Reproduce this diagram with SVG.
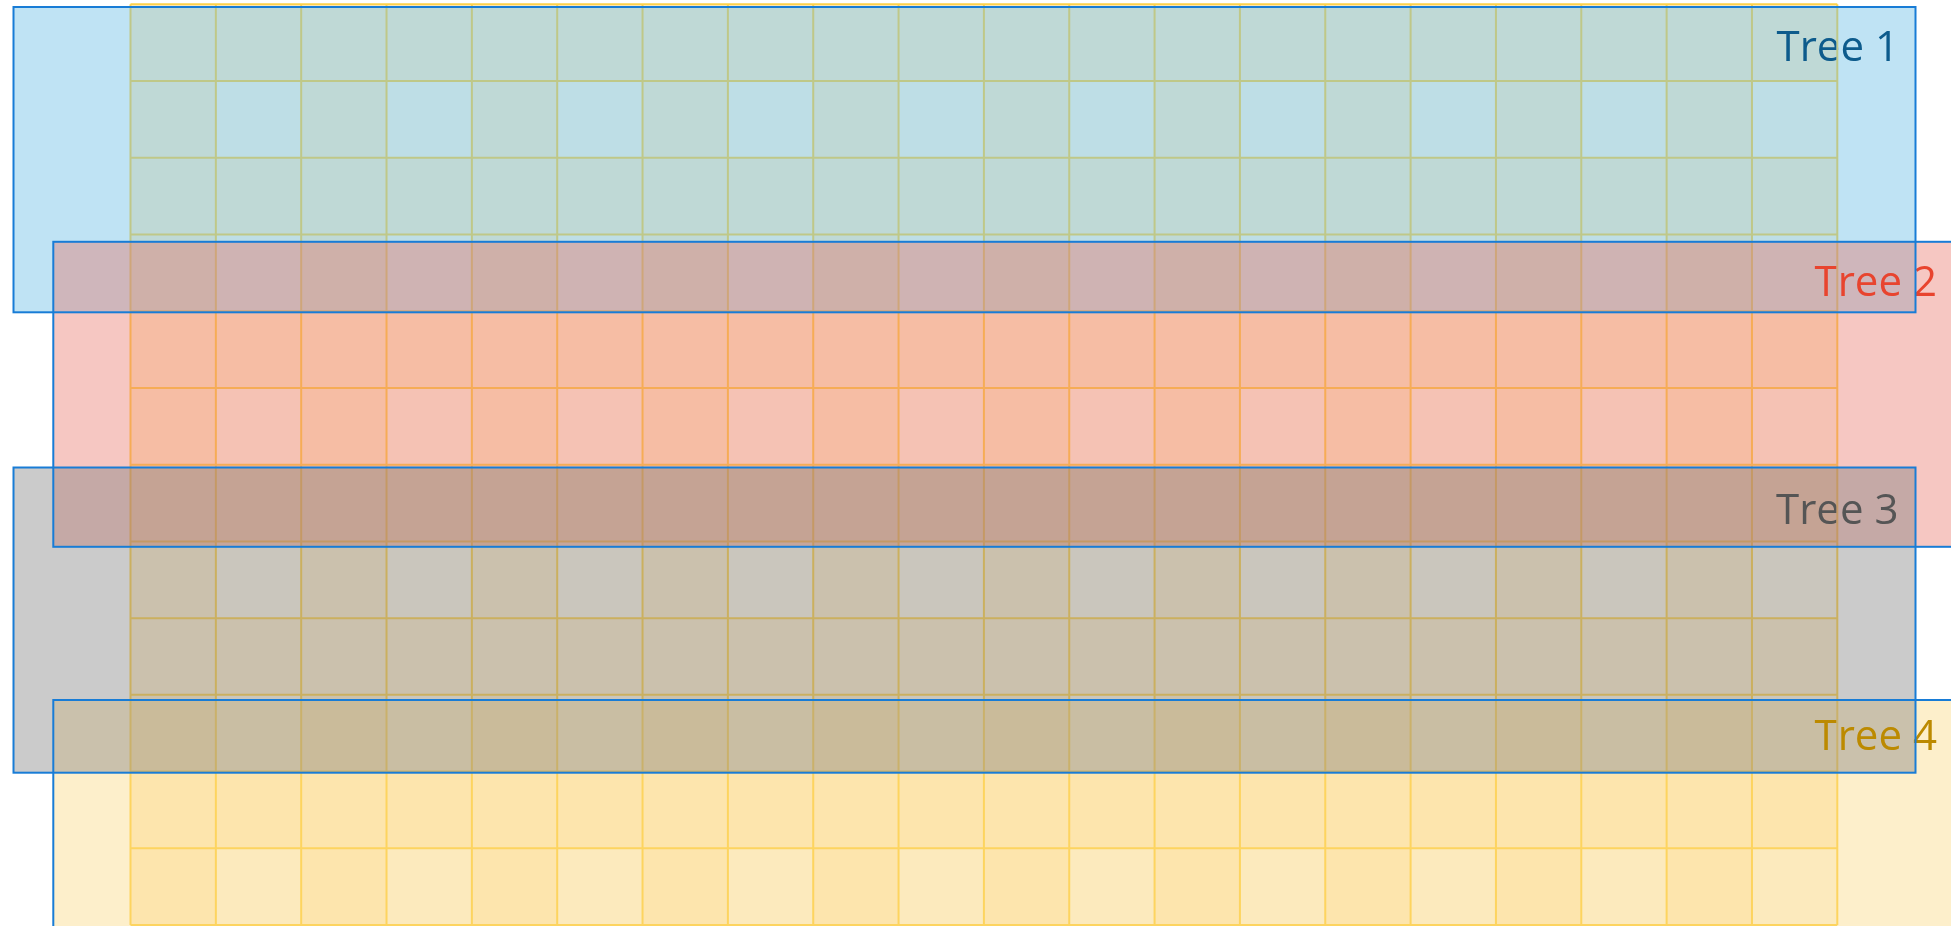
<svg xmlns="http://www.w3.org/2000/svg" width="1951" height="926" viewBox="0 0 1951 926">
  <style>
    .fill { stroke: none; fill-opacity: 0.4; }
    .border { fill: none; stroke: #187CD6; stroke-width: 2; }
    .grid-line { fill: none; stroke: #FFD24B; stroke-width: 2; }
    .label { font-family: "Open Sans", "Noto Sans", "Liberation Sans", sans-serif; font-size: 42px; }
  </style>
  <defs>
    <pattern id="lightCells" patternUnits="userSpaceOnUse" x="130.5" y="4.3" width="170.68" height="153.46">
      <rect x="85.34" y="76.73" width="85.34" height="76.73" fill="#FEF7E8"/>
    </pattern>
    <mask id="lineCut" maskUnits="userSpaceOnUse" x="0" y="0" width="1951" height="926">
      <rect x="0" y="0" width="1951" height="926" fill="#fff"/>
      <rect x="1836.3" y="0" width="2" height="926" fill="#000"/>
    </mask>
  </defs>

  <rect width="1951" height="926" fill="#FFFFFF"/>

  <!-- grid underneath -->
  <g id="grid">
    <rect x="130.5" y="4.3" width="1706.8" height="920.76" fill="#FFEECE"/>
    <rect x="130.5" y="4.3" width="1706.8" height="920.76" fill="url(#lightCells)"/>
    <path class="grid-line" d="M130.5 4.3V925.06M215.84 4.3V925.06M301.18 4.3V925.06M386.52 4.3V925.06M471.86 4.3V925.06M557.2 4.3V925.06M642.54 4.3V925.06M727.88 4.3V925.06M813.22 4.3V925.06M898.56 4.3V925.06M983.9 4.3V925.06M1069.24 4.3V925.06M1154.58 4.3V925.06M1239.92 4.3V925.06M1325.26 4.3V925.06M1410.6 4.3V925.06M1495.94 4.3V925.06M1581.28 4.3V925.06M1666.62 4.3V925.06M1751.96 4.3V925.06M1837.3 4.3V925.06M130.5 4.3H1837.3M130.5 81.03H1837.3M130.5 157.76H1837.3M130.5 234.49H1837.3M130.5 311.22H1837.3M130.5 387.95H1837.3M130.5 464.68H1837.3M130.5 541.41H1837.3M130.5 618.14H1837.3M130.5 694.87H1837.3M130.5 771.6H1837.3M130.5 848.33H1837.3M130.5 925.06H1837.3"/>
  </g>

  <!-- translucent tree regions -->
  <g id="tree-fills">
    <rect id="tree1-fill" class="fill" x="13.5" y="7" width="1902" height="305.3" fill="#5FB9E3"/>
    <rect id="tree2-fill" class="fill" x="53.3" y="241.8" width="1902" height="305" fill="#E87366"/>
    <rect id="tree4-fill" class="fill" x="53.3" y="700" width="1902" height="305" fill="#FAD77D"/>
    <rect id="tree3-fill" class="fill" x="13.5" y="467.5" width="1902" height="305.2" fill="#7D7D7D"/>
  </g>

  <!-- labels -->
  <g id="tree-labels" class="label" mask="url(#lineCut)">
    <text id="tree1-label" x="1776.5" y="61" fill="#0D5B8C">Tree 1</text>
    <text id="tree2-label" x="1814.5" y="295.7" fill="#E8442E">Tree 2</text>
    <text id="tree3-label" x="1776" y="524.3" fill="#555555">Tree 3</text>
    <text id="tree4-label" x="1814.5" y="749.5" fill="#BC8A00">Tree 4</text>
  </g>

  <!-- borders -->
  <g id="tree-borders">
    <rect id="tree1" class="border" x="13.5" y="7" width="1902" height="305.3"/>
    <rect id="tree2" class="border" x="53.3" y="241.8" width="1902" height="305"/>
    <rect id="tree3" class="border" x="13.5" y="467.5" width="1902" height="305.2"/>
    <rect id="tree4" class="border" x="53.3" y="700" width="1902" height="305"/>
  </g>
</svg>
